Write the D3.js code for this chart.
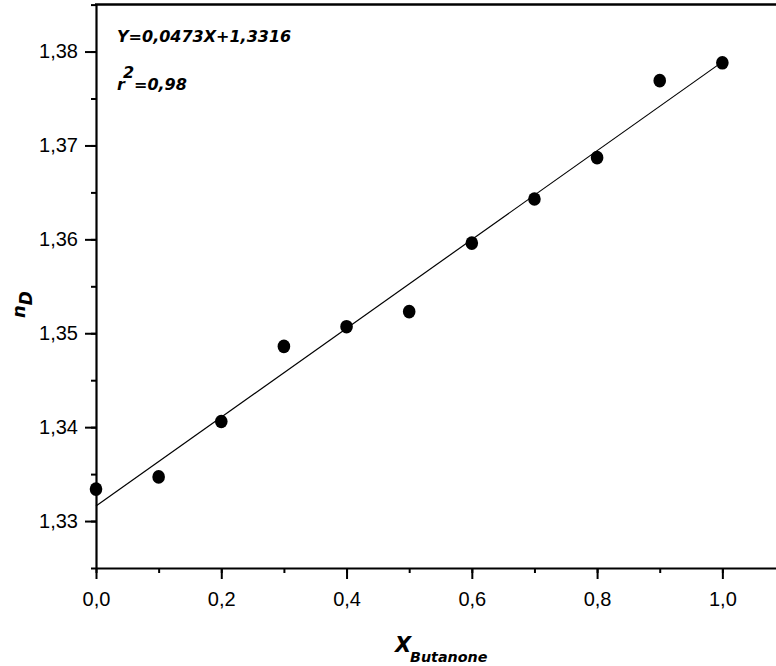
<!DOCTYPE html>
<html><head><meta charset="utf-8">
<script src="https://cdn.jsdelivr.net/npm/d3@7"></script>
<style>body{margin:0;background:#fff}svg{display:block}</style>
</head><body>
<script>
const xValues = [0.0, 0.1, 0.2, 0.3, 0.4, 0.5, 0.6, 0.7, 0.8, 0.9, 1.0];
const nD = [1.3334, 1.3347, 1.3406, 1.3486, 1.3507, 1.3523, 1.3596, 1.3643, 1.3687, 1.3769, 1.3788];
const fitSlope = 0.0473, fitIntercept = 1.3316;
const xTicks = [0.0, 0.2, 0.4, 0.6, 0.8, 1.0];
const yTicks = [1.33, 1.34, 1.35, 1.36, 1.37, 1.38];

const W = 776, H = 666;
const svg = d3.select("body").append("svg").attr("width", W).attr("height", H);
const x = d3.scaleLinear().domain([0, 1.1]).range([96, 785]);
const y = d3.scaleLinear().domain([1.325, 1.385]).range([568, 4.6]);
const fmt = d => d3.format(".1f")(d).replace(".", ",");
const fmtY = d => d3.format(".2f")(d).replace(".", ",");

// minor ticks
const xMinor = d3.range(0, 1.1001, 0.1);
const yMinor = d3.range(1.325, 1.3851, 0.005);
svg.append("g").attr("transform", "translate(0,568)")
  .call(d3.axisBottom(x).tickValues(xMinor).tickSize(5).tickFormat(""))
  .call(g => g.select(".domain").remove())
  .call(g => g.selectAll("line").attr("stroke", "#000").attr("stroke-width", 2));
svg.append("g").attr("transform", "translate(96,0)")
  .call(d3.axisLeft(y).tickValues(yMinor).tickSize(5).tickFormat(""))
  .call(g => g.select(".domain").remove())
  .call(g => g.selectAll("line").attr("stroke", "#000").attr("stroke-width", 2));

// major axes
const xAx = svg.append("g").attr("transform", "translate(0,568)")
  .call(d3.axisBottom(x).tickValues(xTicks).tickSize(11).tickSizeOuter(0).tickPadding(13).tickFormat(fmt));
const yAx = svg.append("g").attr("transform", "translate(96,0)")
  .call(d3.axisLeft(y).tickValues(yTicks).tickSize(11).tickSizeOuter(0).tickPadding(7).tickFormat(fmtY));
[xAx, yAx].forEach(g => {
  g.attr("font-size", 20).attr("font-family", "'Liberation Sans', Arial, sans-serif");
  g.select(".domain").attr("stroke", "#000").attr("stroke-width", 2.2);
  g.selectAll("line").attr("stroke", "#000").attr("stroke-width", 2);
  g.selectAll("text").attr("font-size", 20).attr("fill", "#000");
});
// top frame line
svg.append("line").attr("x1", x(0) - 1).attr("x2", x(1.1)).attr("y1", y(1.385)).attr("y2", y(1.385))
  .attr("stroke", "#000").attr("stroke-width", 2.5);

// fit line
const line = d3.line().x(d => x(d)).y(d => y(fitSlope * d + fitIntercept));
svg.append("path").datum([0, 1.0]).attr("d", line)
  .attr("stroke", "#000").attr("stroke-width", 1.2).attr("fill", "none");

// points
svg.append("g").selectAll("ellipse").data(xValues).join("ellipse")
  .attr("cx", (d) => x(d)).attr("cy", (d, i) => y(nD[i]))
  .attr("rx", 6.3).attr("ry", 6.8).attr("fill", "#000");

// annotations
const af = "'DejaVu Sans', sans-serif";
svg.append("text").attr("x", 117).attr("y", 42).attr("font-family", af)
  .attr("font-size", 16).attr("font-weight", "bold").attr("font-style", "italic")
  .text("Y=0,0473X+1,3316");
const r2 = svg.append("text").attr("y", 90).attr("font-family", af)
  .attr("font-size", 16).attr("font-weight", "bold").attr("font-style", "italic");
r2.append("tspan").attr("x", 117).text("r");
r2.append("tspan").attr("x", 123).attr("dy", -12).text("2");
r2.append("tspan").attr("x", 134).attr("dy", 12).text("=0,98");

// axis titles
const xt = svg.append("text").attr("y", 652).attr("font-family", af)
  .attr("font-weight", "bold").attr("font-style", "italic").attr("font-size", 21);
xt.append("tspan").attr("x", 395).text("X");
xt.append("tspan").attr("x", 410).attr("dy", 10).attr("font-size", 14.3).text("Butanone");

const yt = svg.append("text").attr("transform", "translate(25,318) rotate(-90)")
  .attr("font-family", af).attr("font-weight", "bold").attr("font-style", "italic").attr("font-size", 18);
yt.append("tspan").text("n");
yt.append("tspan").attr("dy", 7).attr("font-size", 17).text("D");
</script>
</body></html>
